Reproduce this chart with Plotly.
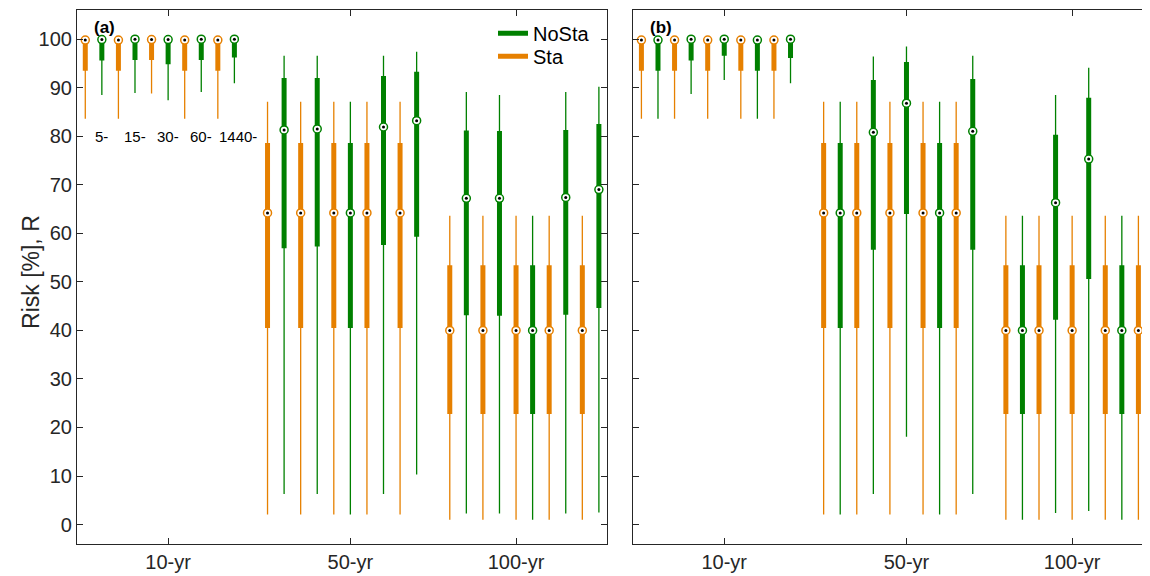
import plotly.graph_objects as go

# ---------------- data ----------------
periods = ["10-yr", "50-yr", "100-yr"]
durations = ["5-", "15-", "30-", "60-", "1440-"]
series_names = ["Sta", "NoSta"]
period_tick_slot = [6, 17, 27]

# order: 10-yr (5-,15-,30-,60-,1440-), 50-yr (...), 100-yr (...)
# ---- panel (a) ----
a_sta_lo  = [83.6, 83.6, 88.8, 83.6, 83.6,   2.1, 2.1, 2.1, 2.1, 2.1,    1.0, 1.0, 1.0, 1.0, 1.0]
a_sta_q1  = [93.5, 93.5, 95.7, 93.5, 93.5,   40.5, 40.5, 40.5, 40.5, 40.5, 22.8, 22.8, 22.8, 22.8, 22.8]
a_sta_med = [99.8, 99.8, 99.9, 99.8, 99.8,   64.2, 64.2, 64.2, 64.2, 64.2, 40.0, 40.0, 40.0, 40.0, 40.0]
a_sta_q3  = [100, 100, 100, 100, 100,        78.6, 78.6, 78.6, 78.6, 78.6, 53.4, 53.4, 53.4, 53.4, 53.4]
a_sta_hi  = [100, 100, 100, 100, 100,        87.1, 87.1, 87.1, 87.1, 87.1, 63.6, 63.6, 63.6, 63.6, 63.6]

a_nos_lo  = [88.5, 88.9, 87.4, 89.1, 90.9,   6.3, 6.3, 2.1, 6.3, 10.3,   2.3, 2.3, 1.0, 2.3, 2.5]
a_nos_q1  = [95.6, 95.7, 94.8, 95.7, 96.2,   56.9, 57.3, 40.5, 57.6, 59.3, 43.1, 43.0, 22.8, 43.2, 44.6]
a_nos_med = [99.9, 100, 99.9, 100, 100,      81.3, 81.5, 64.2, 81.9, 83.2, 67.2, 67.2, 40.0, 67.4, 69.0]
a_nos_q3  = [100, 100, 100, 100, 100,        92.0, 92.0, 78.6, 92.4, 93.3, 81.2, 81.1, 53.4, 81.3, 82.5]
a_nos_hi  = [100, 100, 100, 100, 100,        96.6, 96.6, 87.1, 96.6, 97.4, 89.1, 88.5, 63.6, 89.1, 90.2]

# ---- panel (b) ---- (last NoSta box lies outside the visible frame)
b_sta_lo  = [83.6, 83.6, 83.6, 83.6, 83.6,   2.1, 2.1, 2.1, 2.1, 2.1,    1.0, 1.0, 1.0, 1.0, 1.0]
b_sta_q1  = [93.5, 93.5, 93.5, 93.5, 93.5,   40.5, 40.5, 40.5, 40.5, 40.5, 22.8, 22.8, 22.8, 22.8, 22.8]
b_sta_med = [99.8, 99.8, 99.8, 99.8, 99.8,   64.2, 64.2, 64.2, 64.2, 64.2, 40.0, 40.0, 40.0, 40.0, 40.0]
b_sta_q3  = [100, 100, 100, 100, 100,        78.6, 78.6, 78.6, 78.6, 78.6, 53.4, 53.4, 53.4, 53.4, 53.4]
b_sta_hi  = [100, 100, 100, 100, 100,        87.1, 87.1, 87.1, 87.1, 87.1, 63.6, 63.6, 63.6, 63.6, 63.6]

b_nos_lo  = [83.6, 88.7, 91.6, 83.6, 90.9,   2.1, 6.3, 18.1, 2.1, 6.3,   1.0, 2.4, 2.8, 1.0, None]
b_nos_q1  = [93.5, 95.6, 96.6, 93.5, 96.1,   40.5, 56.6, 64.0, 40.5, 56.6, 22.8, 42.2, 50.6, 22.8, None]
b_nos_med = [99.8, 100, 100, 99.8, 100,      64.2, 80.8, 86.8, 64.2, 81.0, 40.0, 66.3, 75.3, 40.0, None]
b_nos_q3  = [100, 100, 100, 100, 100,        78.6, 91.6, 95.3, 78.6, 91.8, 53.4, 80.3, 87.9, 53.4, None]
b_nos_hi  = [100, 100, 100, 100, 100,        87.1, 96.4, 98.5, 87.1, 96.6, 63.6, 88.5, 94.1, 63.6, None]

# ---------------- styling ----------------
COL = {"Sta": "#e68000", "NoSta": "#008000"}
AX = "#262626"
FONT = "Liberation Sans, Arial, Helvetica, sans-serif"


def slot(i, s):
    g, d = divmod(i, 5)
    return 1 + 11 * g + 2 * d + s


def add_series(fig, name, s, lo, q1, med, q3, hi, xa, ya):
    c = COL[name]
    wx, wy, bx, by, mx, my = [], [], [], [], [], []
    for i in range(len(med)):
        if med[i] is None:
            continue
        p = slot(i, s)
        wx += [p, p, None]; wy += [lo[i], hi[i], None]
        bx += [p, p, None]; by += [q1[i], q3[i], None]
        mx.append(p); my.append(med[i])
    common = dict(xaxis=xa, yaxis=ya, showlegend=False, hoverinfo="skip")
    fig.add_trace(go.Scatter(x=wx, y=wy, mode="lines", line=dict(color=c, width=1.3), **common))
    fig.add_trace(go.Scatter(x=bx, y=by, mode="lines", line=dict(color=c, width=5), **common))
    fig.add_trace(go.Scatter(x=mx, y=my, mode="markers",
                             marker=dict(symbol="circle", size=8, color="white",
                                         line=dict(color=c, width=1.5)), **common))
    fig.add_trace(go.Scatter(x=mx, y=my, mode="markers",
                             marker=dict(symbol="circle", size=3, color="black"), **common))


fig = go.Figure()
add_series(fig, "Sta", 0, a_sta_lo, a_sta_q1, a_sta_med, a_sta_q3, a_sta_hi, "x", "y")
add_series(fig, "NoSta", 1, a_nos_lo, a_nos_q1, a_nos_med, a_nos_q3, a_nos_hi, "x", "y")
add_series(fig, "Sta", 0, b_sta_lo, b_sta_q1, b_sta_med, b_sta_q3, b_sta_hi, "x2", "y2")
add_series(fig, "NoSta", 1, b_nos_lo, b_nos_q1, b_nos_med, b_nos_q3, b_nos_hi, "x2", "y2")

# legend entries (each in its own legend box to control spacing)
fig.add_trace(go.Scatter(x=[None], y=[None], mode="lines", name="NoSta", legend="legend",
                         line=dict(color=COL["NoSta"], width=5), xaxis="x", yaxis="y"))
fig.add_trace(go.Scatter(x=[None], y=[None], mode="lines", name="Sta", legend="legend2",
                         line=dict(color=COL["Sta"], width=5), xaxis="x", yaxis="y"))

xcommon = dict(showgrid=False, zeroline=False, showline=True, linecolor=AX, linewidth=1.2,
               ticks="inside", ticklen=6, tickcolor=AX, tickwidth=1.2,
               tickvals=period_tick_slot, ticktext=periods,
               tickfont=dict(size=20, color=AX, family=FONT))
ycommon = dict(showgrid=False, zeroline=False, showline=True, linecolor=AX, linewidth=1.2,
               ticks="inside", ticklen=6, tickcolor=AX, tickwidth=1.2,
               range=[-4, 106], tickvals=list(range(0, 101, 10)),
               tickfont=dict(size=20, color=AX, family=FONT))

legcommon = dict(xanchor="left", yanchor="top", bgcolor="rgba(0,0,0,0)",
                 font=dict(size=20, color="black", family=FONT))

fig.update_layout(
    width=1142, height=568,
    margin=dict(l=69, r=0, t=2, b=32),
    paper_bgcolor="white", plot_bgcolor="white",
    font=dict(family=FONT, color=AX),
    xaxis=dict(domain=[0, 0.4941], range=[0.5, 32.5], mirror="ticks", anchor="y", **xcommon),
    yaxis=dict(domain=[0, 1], mirror="ticks", anchor="x", **ycommon),
    xaxis2=dict(domain=[0.5183, 1], range=[0.5, 31.7], mirror="ticks", anchor="y2", **xcommon),
    yaxis2=dict(domain=[0, 1], mirror=False, anchor="x2", showticklabels=False, **ycommon),
    legend=dict(x=0.3877, y=0.993, **legcommon),
    legend2=dict(x=0.3877, y=0.950, **legcommon),
)

ann = []
for d, lab in enumerate(durations):
    ann.append(dict(x=slot(d, 1), y=80, xref="x", yref="y", text=lab, showarrow=False,
                    xshift=4 if lab == "1440-" else 0,
                    font=dict(size=15, color="black", family=FONT)))
ann.append(dict(x=0.028, y=0.968, xref="x domain", yref="y domain", text="<b>(a)</b>",
                showarrow=False, xanchor="left", yanchor="middle",
                font=dict(size=17, color="black", family=FONT)))
ann.append(dict(x=0.028, y=0.968, xref="x2 domain", yref="y2 domain", text="<b>(b)</b>",
                showarrow=False, xanchor="left", yanchor="middle",
                font=dict(size=17, color="black", family=FONT)))
ann.append(dict(x=-0.0435, y=0.51, xref="paper", yref="paper", text="Risk [%], R",
                textangle=-90, showarrow=False, xanchor="center", yanchor="middle",
                font=dict(size=23, color=AX, family=FONT)))
fig.update_layout(annotations=ann)

fig.write_html("out.html")
